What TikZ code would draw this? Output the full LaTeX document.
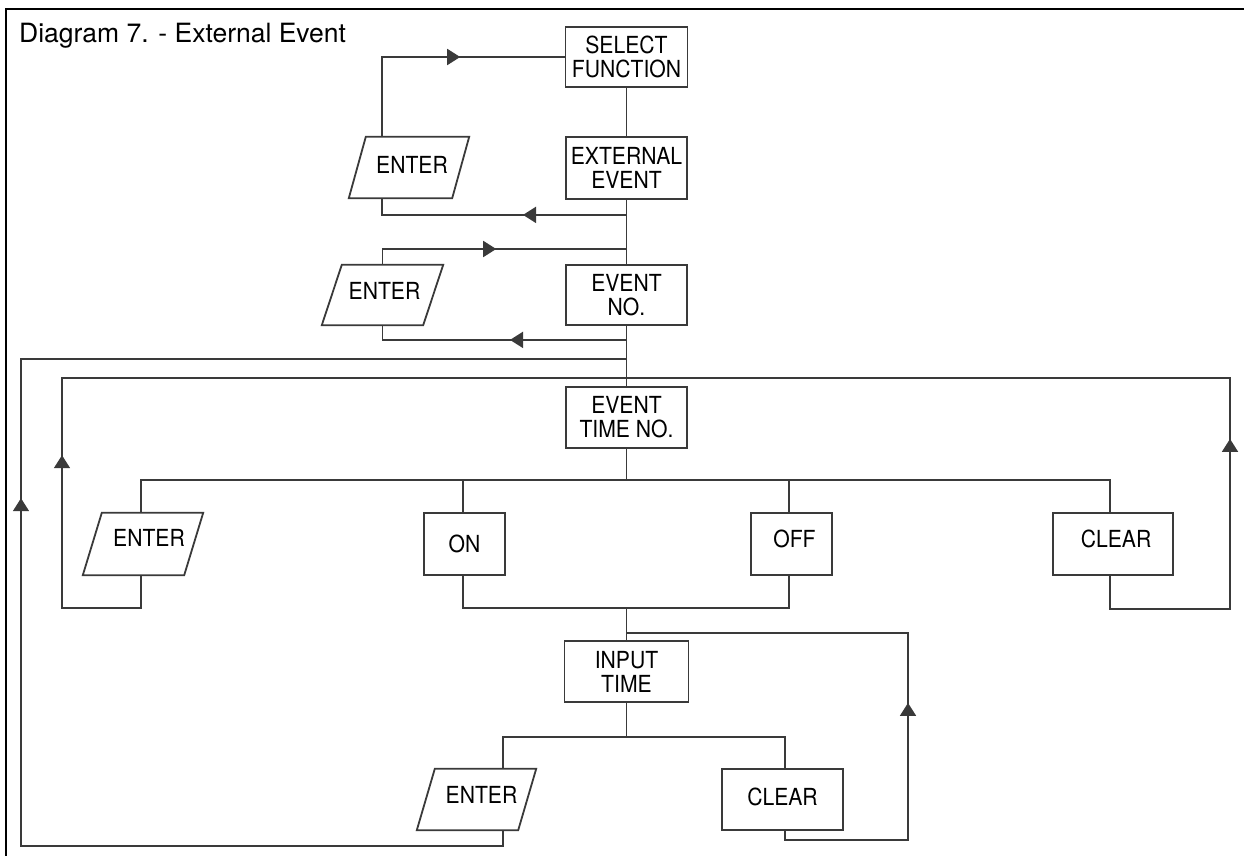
\documentclass[tikz,border=0pt]{standalone}
\usepackage{fontspec}
\setmainfont{TeX Gyre Heros}
\newfontfamily\boxfont{TeX Gyre Heros}[FakeStretch=0.9]
\usetikzlibrary{arrows.meta,decorations.markings}
\definecolor{lc}{HTML}{3A3A3A}
\newcommand{\paral}[2]{\draw[conn, line join=miter] (#1.south west) -- ([xshift=-#2pt]#1.south east) -- (#1.north east) -- ([xshift=#2pt]#1.north west) -- cycle;}
\begin{document}
\begin{tikzpicture}[x=1pt,y=1pt,
  conn/.style={draw=lc, color=lc, line width=1.8pt},
  txt/.style={inner sep=0pt, align=center, text=black, font=\boxfont\fontsize{23.5}{24}\selectfont},
  box/.style={txt, draw=lc, line width=1.8pt},
  pbox/.style={txt},
  midarrow/.style={postaction={decorate}, decoration={markings, mark=at position #1 with {\arrow{Triangle[length=13pt,width=16pt]}}}},
]
\useasboundingbox (0,0) rectangle (1244,-856);
\draw[black, line width=1.5pt] (6,-856) -- (6,-9) -- (1244,-9);
\node[anchor=base west, inner sep=0pt, font=\fontsize{26.5}{28}\selectfont] (title) at (19,-43) {Diagram 7. - External Event};

% main column
\node[box, minimum width=122pt, minimum height=60pt] (sf) at (626.5,-57) {SELECT\\FUNCTION};
\node[box, minimum width=121pt, minimum height=62pt] (ee) at (626.5,-168) {EXTERNAL\\EVENT};
\node[box, minimum width=121pt, minimum height=60pt] (evn) at (626.5,-295) {EVENT\\NO.};
\node[box, minimum width=121pt, minimum height=61pt] (etn) at (626.5,-417.5) {EVENT\\TIME NO.};
\node[box, minimum width=81pt, minimum height=62pt] (on) at (464.5,-544) {ON};
\node[box, minimum width=81pt, minimum height=62pt, text depth=10pt] (off) at (791.5,-544) {\hspace*{6pt}OFF};
\node[box, minimum width=120pt, minimum height=62pt, text depth=10pt] (clr1) at (1113,-544) {\hspace*{6pt}CLEAR};
\node[box, minimum width=124pt, minimum height=61pt] (it) at (626.5,-671.5) {INPUT\\TIME};
\node[box, minimum width=121pt, minimum height=61pt, text depth=6pt] (clr2) at (782.5,-799.5) {CLEAR};

% parallelograms
\node[pbox, minimum width=120pt, minimum height=61pt, text depth=6pt] (en1) at (409,-167.5) {\hspace*{6pt}ENTER};
\node[pbox, minimum width=121pt, minimum height=60pt, text depth=8pt] (en2) at (382.5,-295) {\hspace*{4pt}ENTER};
\node[pbox, minimum width=120pt, minimum height=62pt, text depth=12pt] (en3) at (143,-544) {\hspace*{12pt}ENTER};
\node[pbox, minimum width=119pt, minimum height=61pt, text depth=10pt] (en4) at (476.5,-799.5) {\hspace*{10pt}ENTER};
\paral{en1}{17}
\paral{en2}{20}
\paral{en3}{19}
\paral{en4}{18}

% junction coordinates
\coordinate (j2) at (626.5,-249);
\coordinate (j3) at (626.5,-359);
\coordinate (j4) at (626.5,-378);
\coordinate (j5) at (626.5,-480);
\coordinate (j6) at (626.5,-608);
\coordinate (j7) at (626.5,-633);
\coordinate (j8) at (626.5,-737);
\coordinate (ol) at (21,0);
\coordinate (il) at (62,0);
\coordinate (ir) at (1230,0);
\coordinate (sl) at (908,0);

% connectors
\draw[conn, midarrow=158pt] ([xshift=-27pt]en1.north) |- (sf.west);
\draw[conn] (sf) -- (ee);
\draw[conn, midarrow=103.5pt] (ee.south) ++(0,-15) -| ([xshift=-27pt]en1.south);
\draw[conn] (ee) -- (evn);
\draw[conn, midarrow=129.5pt] (en2.north) |- (j2);
\draw[conn, midarrow=116.5pt] (evn.south) ++(0,-14) -| (en2.south);
\draw[conn] (evn) -- (etn);
\draw[conn, midarrow=846pt] ([xshift=26.5pt]en4.south) -- ++(0,-16) -| (ol |- j3) -- (j3);
\draw[conn, midarrow=265pt] ([xshift=-2pt]en3.south) -- ++(0,-33) -| (il |- j4) -- (j4);
\draw[conn, midarrow=323pt] ([xshift=-3pt]clr1.south) -- ++(0,-33) -| (ir |- j4) -- (j4);
\draw[conn] (etn) -- (j5);
\draw[conn] ([xshift=-2pt]en3.north) |- (j5) -| ([xshift=-3pt]clr1.north);
\draw[conn] ([xshift=-1.5pt]on.north) |- (j5);
\draw[conn] ([xshift=-2.5pt]off.north) |- (j5);
\draw[conn] ([xshift=-1.5pt]on.south) |- (j6) -| ([xshift=-2.5pt]off.south);
\draw[conn] (j6) -- (it);
\draw[conn, midarrow=269pt] ([xshift=2.5pt]clr2.south) -- ++(0,-9) -| (sl |- j7) -- (j7);
\draw[conn] (it) -- (j8);
\draw[conn] ([xshift=26.5pt]en4.north) |- (j8) -| ([xshift=2.5pt]clr2.north);
\end{tikzpicture}
\end{document}
